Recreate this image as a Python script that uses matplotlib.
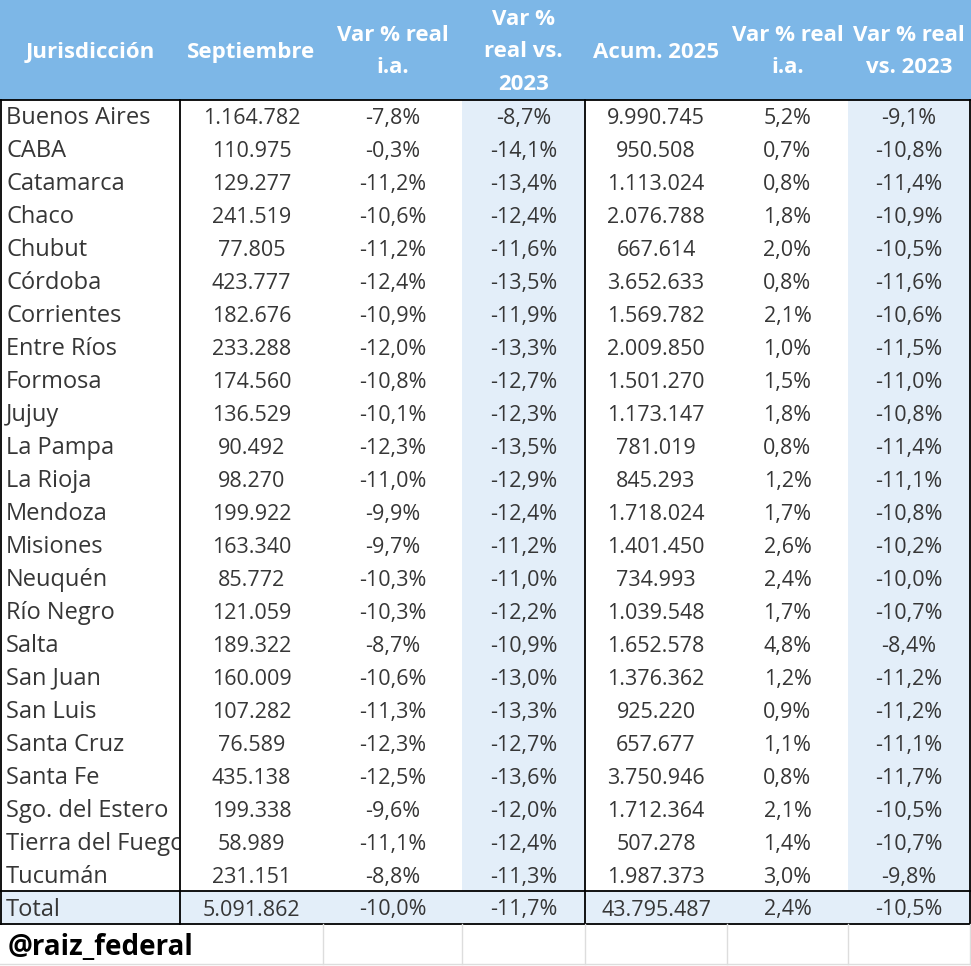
import matplotlib.pyplot as plt
from matplotlib.patches import Rectangle

# table data
provincias = ["Buenos Aires", "CABA", "Catamarca", "Chaco", "Chubut", "Córdoba",
              "Corrientes", "Entre Ríos", "Formosa", "Jujuy", "La Pampa", "La Rioja",
              "Mendoza", "Misiones", "Neuquén", "Río Negro", "Salta", "San Juan",
              "San Luis", "Santa Cruz", "Santa Fe", "Sgo. del Estero",
              "Tierra del Fuego", "Tucumán"]
septiembre = ["1.164.782", "110.975", "129.277", "241.519", "77.805", "423.777",
              "182.676", "233.288", "174.560", "136.529", "90.492", "98.270",
              "199.922", "163.340", "85.772", "121.059", "189.322", "160.009",
              "107.282", "76.589", "435.138", "199.338", "58.989", "231.151"]
var_ia = ["-7,8%", "-0,3%", "-11,2%", "-10,6%", "-11,2%", "-12,4%", "-10,9%", "-12,0%",
          "-10,8%", "-10,1%", "-12,3%", "-11,0%", "-9,9%", "-9,7%", "-10,3%", "-10,3%",
          "-8,7%", "-10,6%", "-11,3%", "-12,3%", "-12,5%", "-9,6%", "-11,1%", "-8,8%"]
var_2023 = ["-8,7%", "-14,1%", "-13,4%", "-12,4%", "-11,6%", "-13,5%", "-11,9%", "-13,3%",
            "-12,7%", "-12,3%", "-13,5%", "-12,9%", "-12,4%", "-11,2%", "-11,0%", "-12,2%",
            "-10,9%", "-13,0%", "-13,3%", "-12,7%", "-13,6%", "-12,0%", "-12,4%", "-11,3%"]
acum = ["9.990.745", "950.508", "1.113.024", "2.076.788", "667.614", "3.652.633",
        "1.569.782", "2.009.850", "1.501.270", "1.173.147", "781.019", "845.293",
        "1.718.024", "1.401.450", "734.993", "1.039.548", "1.652.578", "1.376.362",
        "925.220", "657.677", "3.750.946", "1.712.364", "507.278", "1.987.373"]
acum_ia = ["5,2%", "0,7%", "0,8%", "1,8%", "2,0%", "0,8%", "2,1%", "1,0%", "1,5%", "1,8%",
           "0,8%", "1,2%", "1,7%", "2,6%", "2,4%", "1,7%", "4,8%", "1,2%", "0,9%", "1,1%",
           "0,8%", "2,1%", "1,4%", "3,0%"]
acum_2023 = ["-9,1%", "-10,8%", "-11,4%", "-10,9%", "-10,5%", "-11,6%", "-10,6%", "-11,5%",
             "-11,0%", "-10,8%", "-11,4%", "-11,1%", "-10,8%", "-10,2%", "-10,0%", "-10,7%",
             "-8,4%", "-11,2%", "-11,2%", "-11,1%", "-11,7%", "-10,5%", "-10,7%", "-9,8%"]
total = ["Total", "5.091.862", "-10,0%", "-11,7%", "43.795.487", "2,4%", "-10,5%"]
headers = [["Jurisdicción"], ["Septiembre"], ["Var % real", "i.a."],
           ["Var %", "real vs.", "2023"], ["Acum. 2025"], ["Var % real", "i.a."],
           ["Var % real", "vs. 2023"]]

plt.rcParams['font.family'] = ['Open Sans', 'DejaVu Sans']

W, H = 971, 966
fig = plt.figure(figsize=(W / 100, H / 100), dpi=100)
ax = fig.add_axes([0, 0, 1, 1])
ax.set_xlim(0, W)
ax.set_ylim(H, 0)
ax.axis('off')

edges = [1, 180, 323, 462, 585, 727, 848, 970]
head_bot = 100
row_h = (891 - 100) / 24
tot_top, tot_bot = 891, 924
foot_bot = 964

HEAD = '#7db7e7'
SHADE = '#e3eef9'
TXT = '#363636'
FS_NAME = 17
FS_NUM = 15.5
FS_HEAD = 16

# header
ax.add_patch(Rectangle((0, 0), W, head_bot, color=HEAD, lw=0))
base_y = {1: [58], 2: [41, 73], 3: [25, 57, 90]}
for j, lines in enumerate(headers):
    cx = (edges[j] + edges[j + 1]) / 2
    for line, y in zip(lines, base_y[len(lines)]):
        ax.text(cx, y, line, ha='center', va='baseline', color='white',
                fontsize=FS_HEAD, fontweight='bold')

# shaded columns and total row
for j in (3, 6):
    ax.add_patch(Rectangle((edges[j], head_bot), edges[j + 1] - edges[j],
                           tot_top - head_bot, color=SHADE, lw=0))
ax.add_patch(Rectangle((edges[0], tot_top), edges[-1] - edges[0], tot_bot - tot_top,
                       color=SHADE, lw=0))

clip = Rectangle((0, 0), edges[1] - 1, H, transform=ax.transData)
cols = [provincias, septiembre, var_ia, var_2023, acum, acum_ia, acum_2023]
for j, col in enumerate(cols):
    cx = (edges[j] + edges[j + 1]) / 2
    rows = col + [total[j]]
    for i, v in enumerate(rows):
        if i < len(col):
            y = head_bot + row_h * (i + 0.5) + 8
        else:
            y = (tot_top + tot_bot) / 2 + 8
        if j == 0:
            t = ax.text(6, y, v, ha='left', va='baseline', color=TXT, fontsize=FS_NAME)
            t.set_clip_path(clip)
            t.set_clip_on(True)
        else:
            ax.text(cx, y, v, ha='center', va='baseline', color=TXT, fontsize=FS_NUM)

# black borders
k = dict(color='black', lw=1.3)
ax.plot([0, W], [head_bot, head_bot], **k)
ax.plot([0, W], [tot_top, tot_top], **k)
ax.plot([0, W], [tot_bot, tot_bot], **k)
for x in (edges[0], edges[1], edges[4], edges[7]):
    ax.plot([x, x], [head_bot, tot_bot], **k)

# footer grid
g = dict(color='#dddddd', lw=1)
ax.plot([0, W], [foot_bot, foot_bot], **g)
for x in edges[2:]:
    ax.plot([x, x], [tot_bot, foot_bot], **g)
ax.text(8, 955, "@raiz_federal", ha='left', va='baseline', color='black',
        fontsize=20, fontweight='bold')

fig.savefig('out.png', dpi=100)
